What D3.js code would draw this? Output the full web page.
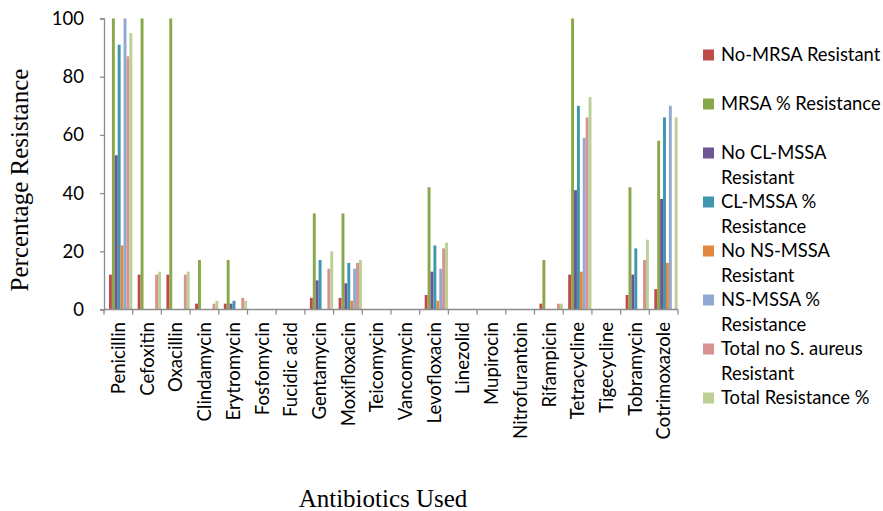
<!DOCTYPE html>
<html>
<head>
<meta charset="utf-8">
<script src="https://cdn.jsdelivr.net/npm/d3@7"></script>
<style>
  html, body { margin: 0; padding: 0; background: #fff; }
  svg { display: block; }
</style>
</head>
<body>
<svg id="chart" width="883" height="511"></svg>
<script>
const categories = ["Penicillin","Cefoxitin","Oxacillin","Clindamycin","Erytromycin","Fosfomycin","Fucidic acid","Gentamycin","Moxifloxacin","Teicomycin","Vancomycin","Levofloxacin","Linezolid","Mupirocin","Nitrofurantoin","Rifampicin","Tetracycline","Tigecycline","Tobramycin","Cotrimoxazole"];

const noMRSA   = [12,12,12,2,2,0,0,4,4,0,0,5,0,0,0,2,12,0,5,7];
const mrsaPct  = [100,100,100,17,17,0,0,33,33,0,0,42,0,0,0,17,100,0,42,58];
const noCL     = [53,0,0,0,2,0,0,10,9,0,0,13,0,0,0,0,41,0,12,38];
const clPct    = [91,0,0,0,3,0,0,17,16,0,0,22,0,0,0,0,70,0,21,66];
const noNS     = [22,0,0,0,0,0,0,0,3,0,0,3,0,0,0,0,13,0,0,16];
const nsPct    = [100,0,0,0,0,0,0,0,14,0,0,14,0,0,0,0,59,0,0,70];
const totalNo  = [87,12,12,2,4,0,0,14,16,0,0,21,0,0,0,2,66,0,17,0];
const totalPct = [95,13,13,3,3,0,0,20,17,0,0,23,0,0,0,2,73,0,24,66];

const seriesNames = ["No-MRSA Resistant","MRSA % Resistance","No CL-MSSA Resistant","CL-MSSA % Resistance","No NS-MSSA Resistant","NS-MSSA % Resistance","Total no S. aureus Resistant","Total Resistance %"];
const legendLines = [["No-MRSA Resistant"],["MRSA % Resistance"],["No CL-MSSA","Resistant"],["CL-MSSA %","Resistance"],["No NS-MSSA","Resistant"],["NS-MSSA %","Resistance"],["Total no S. aureus","Resistant"],["Total Resistance %"]];
const seriesValues = [noMRSA, mrsaPct, noCL, clPct, noNS, nsPct, totalNo, totalPct];
const colors = ["#BE4B48","#88A84B","#6E5596","#3F97AE","#E3893F","#91A8D1","#D69391","#BCD096"];
const yTicks = [0,20,40,60,80,100];

const svg = d3.select("#chart");
const plotLeft = 104, plotRight = 678, plotTop = 18.5, plotBottom = 309.5;
const axisColor = "#8C8C8C";
const sans = "Lato, 'Noto Sans', sans-serif";
const serif = "'Liberation Serif', 'DejaVu Serif', serif";

const x = d3.scaleBand().domain(categories).range([plotLeft, plotRight]).paddingInner(0).paddingOuter(0);
const bw = x.bandwidth();
const xSub = d3.scaleBand().domain(d3.range(seriesNames.length)).range([5, bw - 0.4]);
const y = d3.scaleLinear().domain([0, 100]).range([plotBottom, plotTop]);

// bars
const g = svg.append("g");
seriesValues.forEach((vals, si) => {
  g.selectAll(null).data(vals).enter().append("rect")
    .attr("x", (d, i) => x(categories[i]) + xSub(si))
    .attr("width", xSub.bandwidth())
    .attr("y", d => y(d))
    .attr("height", d => plotBottom - y(d))
    .attr("fill", colors[si]);
});

// y axis
const yAxis = d3.axisLeft(y).tickValues(yTicks).tickSize(4).tickPadding(16);
const ya = svg.append("g").attr("transform", `translate(${plotLeft},0)`).call(yAxis);
ya.select(".domain").attr("stroke", axisColor).attr("stroke-width", 1.3);
ya.selectAll(".tick line").attr("stroke", axisColor).attr("stroke-width", 1.3);
ya.selectAll(".tick text").attr("font-family", sans).attr("font-size", 18.5).attr("fill", "#000");

// x axis
const xa = svg.append("g").attr("transform", `translate(0,${plotBottom})`);
xa.append("line").attr("x1", plotLeft).attr("x2", plotRight).attr("y1", 0).attr("y2", 0)
  .attr("stroke", axisColor).attr("stroke-width", 1.3);
const boundaries = categories.map(c => x(c)).concat([plotRight]);
xa.selectAll("line.tk").data(boundaries).enter().append("line")
  .attr("class", "tk")
  .attr("x1", d => d).attr("x2", d => d).attr("y1", 0).attr("y2", 5)
  .attr("stroke", axisColor).attr("stroke-width", 1.3);
xa.selectAll("text").data(categories).enter().append("text")
  .attr("transform", d => `translate(${x(d) + bw / 2},12.5) rotate(-90)`)
  .attr("text-anchor", "end")
  .attr("dy", "0.36em")
  .attr("font-family", sans).attr("font-size", 18.6).attr("fill", "#000")
  .text(d => d);

// axis titles
svg.append("text")
  .attr("transform", "translate(28,180) rotate(-90)")
  .attr("text-anchor", "middle")
  .attr("font-family", serif).attr("font-size", 25).attr("fill", "#000")
  .text("Percentage Resistance");
svg.append("text")
  .attr("x", 383).attr("y", 507)
  .attr("text-anchor", "middle")
  .attr("font-family", serif).attr("font-size", 25).attr("fill", "#000")
  .text("Antibiotics Used");

// legend
const lg = svg.append("g");
legendLines.forEach((lines, i) => {
  const cy = 55 + 49 * i;
  lg.append("rect").attr("x", 703).attr("y", cy - 5.5).attr("width", 11).attr("height", 11).attr("fill", colors[i]);
  lines.forEach((t, j) => {
    lg.append("text").attr("x", 721).attr("y", cy + 24.4 * j).attr("dy", "0.35em")
      .attr("font-family", sans).attr("font-size", 18.4).attr("fill", "#000").text(t);
  });
});
</script>
</body>
</html>
